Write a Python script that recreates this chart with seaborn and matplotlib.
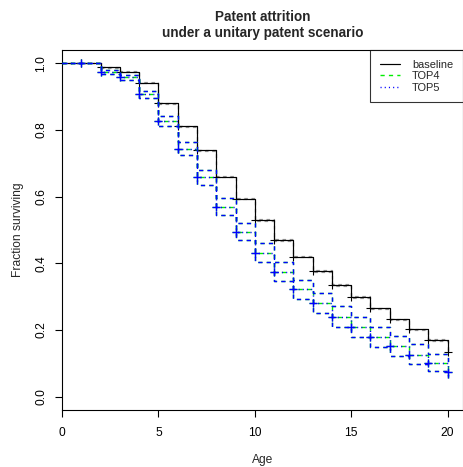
import numpy as np
import pandas as pd
import matplotlib
matplotlib.use("Agg")
import matplotlib.pyplot as plt
from matplotlib.lines import Line2D
import seaborn as sns

# Survival by age (step levels on [t, t+1))
age = list(range(0, 21))

baseline = [1.000, 1.000, 0.988, 0.975, 0.942, 0.880, 0.811, 0.739, 0.660, 0.594, 0.530,
            0.470, 0.420, 0.377, 0.335, 0.299, 0.265, 0.232, 0.202, 0.170, 0.135]
baseline_hi = [1.000, 1.000, 0.989, 0.977, 0.944, 0.882, 0.813, 0.741, 0.662, 0.596, 0.532,
               0.472, 0.422, 0.379, 0.337, 0.301, 0.267, 0.234, 0.204, 0.172, 0.137]
baseline_lo = [1.000, 1.000, 0.987, 0.973, 0.940, 0.878, 0.809, 0.737, 0.658, 0.592, 0.528,
               0.468, 0.418, 0.375, 0.333, 0.297, 0.263, 0.230, 0.200, 0.168, 0.133]

top4 = [1.000, 1.000, 0.975, 0.958, 0.907, 0.828, 0.743, 0.658, 0.570, 0.495, 0.432,
        0.375, 0.322, 0.280, 0.240, 0.210, 0.180, 0.153, 0.125, 0.100, 0.073]
top4_hi = [1.000, 1.000, 0.980, 0.965, 0.917, 0.843, 0.763, 0.680, 0.595, 0.522, 0.460,
           0.403, 0.350, 0.310, 0.272, 0.240, 0.210, 0.182, 0.157, 0.128, 0.092]
top4_lo = [1.000, 1.000, 0.968, 0.951, 0.897, 0.813, 0.724, 0.636, 0.546, 0.470, 0.405,
           0.348, 0.293, 0.250, 0.208, 0.178, 0.150, 0.123, 0.098, 0.078, 0.057]

top5 = [1.000, 1.000, 0.975, 0.958, 0.907, 0.828, 0.743, 0.658, 0.570, 0.495, 0.432,
        0.375, 0.322, 0.280, 0.240, 0.210, 0.180, 0.153, 0.125, 0.100, 0.073]
top5_hi = [1.000, 1.000, 0.980, 0.965, 0.917, 0.843, 0.763, 0.680, 0.595, 0.522, 0.460,
           0.403, 0.350, 0.310, 0.272, 0.240, 0.210, 0.182, 0.157, 0.128, 0.092]
top5_lo = [1.000, 1.000, 0.968, 0.951, 0.897, 0.813, 0.724, 0.636, 0.546, 0.470, 0.405,
           0.348, 0.293, 0.250, 0.208, 0.178, 0.150, 0.123, 0.098, 0.078, 0.057]

censor_ages = list(range(1, 21))

x_ticks = [0, 5, 10, 15, 20]
y_ticks = [0.0, 0.2, 0.4, 0.6, 0.8, 1.0]

sns.set_theme(style="ticks")
plt.rcParams["font.family"] = ["Liberation Sans", "DejaVu Sans"]

W, H = 463, 467
fig = plt.figure(figsize=(W / 72, H / 72), dpi=72)
ax = fig.add_axes([62 / W, (H - 410) / H, (463 - 62) / W, 360 / H])

DASH = (0, (3.0, 3.0))
DOT = (0, (0.8, 2.2))

series = [
    # name, estimate, upper, lower, colour, estimate style, line width, band alpha, mark width
    ("baseline", baseline, baseline_hi, baseline_lo, "black", "-", 1.2, 0.4, 1.1),
    ("TOP4", top4, top4_hi, top4_lo, "#00ee00", DASH, 1.4, 1.0, 1.2),
    ("TOP5", top5, top5_hi, top5_lo, "#0000ff", DOT, 1.4, 1.0, 1.4),
]

handles = []
for i, (name, est, hi, lo, col, ls, lw, band_alpha, mew) in enumerate(series):
    z = 2 + i
    # confidence band: dashed steps in the curve colour
    for band in (hi, lo):
        sns.lineplot(x=age, y=band, ax=ax, color=col, linewidth=lw, linestyle=DASH,
                     alpha=band_alpha, drawstyle="steps-post", estimator=None,
                     sort=False, legend=False, zorder=z)
    sns.lineplot(x=age, y=est, ax=ax, color=col, linewidth=lw, linestyle=ls,
                 drawstyle="steps-post", estimator=None, sort=False, legend=False,
                 zorder=z)
    # censoring marks on the estimate
    ax.plot(censor_ages, [est[a] for a in censor_ages], linestyle="none",
            marker="+", markersize=8, markeredgewidth=mew, color=col, zorder=z + 0.5)
    handles.append(Line2D([], [], color=col, linewidth=lw, linestyle=ls, label=name))

ax.set_xlim(0, 20.8)
ax.set_ylim(-0.04, 1.04)
ax.set_xticks(x_ticks)
ax.set_xticklabels([str(v) for v in x_ticks])
ax.set_yticks(y_ticks)
ax.set_yticklabels([f"{v:.1f}" for v in y_ticks], rotation=90, va="center")
ax.tick_params(axis="x", pad=10)
ax.tick_params(axis="y", pad=8)
ax.tick_params(direction="out", length=7, width=1.1, color="black",
               labelsize=12, labelcolor="black")
for sp in ax.spines.values():
    sp.set_visible(True)
    sp.set_color("black")
    sp.set_linewidth(1.1)

ax.set_xlabel("Age", fontsize=12, labelpad=15)
ax.set_ylabel("Fraction surviving", fontsize=12, labelpad=11)
ax.set_title("Patent attrition\nunder a unitary patent scenario",
             fontsize=13.5, fontweight="bold", pad=13, linespacing=1.2)

leg = ax.legend(handles=handles, loc="upper right", bbox_to_anchor=(1, 1),
                borderaxespad=0, frameon=True, fancybox=False, fontsize=11,
                handlelength=1.8, handletextpad=1.1, borderpad=0.9, labelspacing=0.12)
leg.get_frame().set_edgecolor("black")
leg.get_frame().set_linewidth(1.1)

fig.savefig("out.png", dpi=72)
